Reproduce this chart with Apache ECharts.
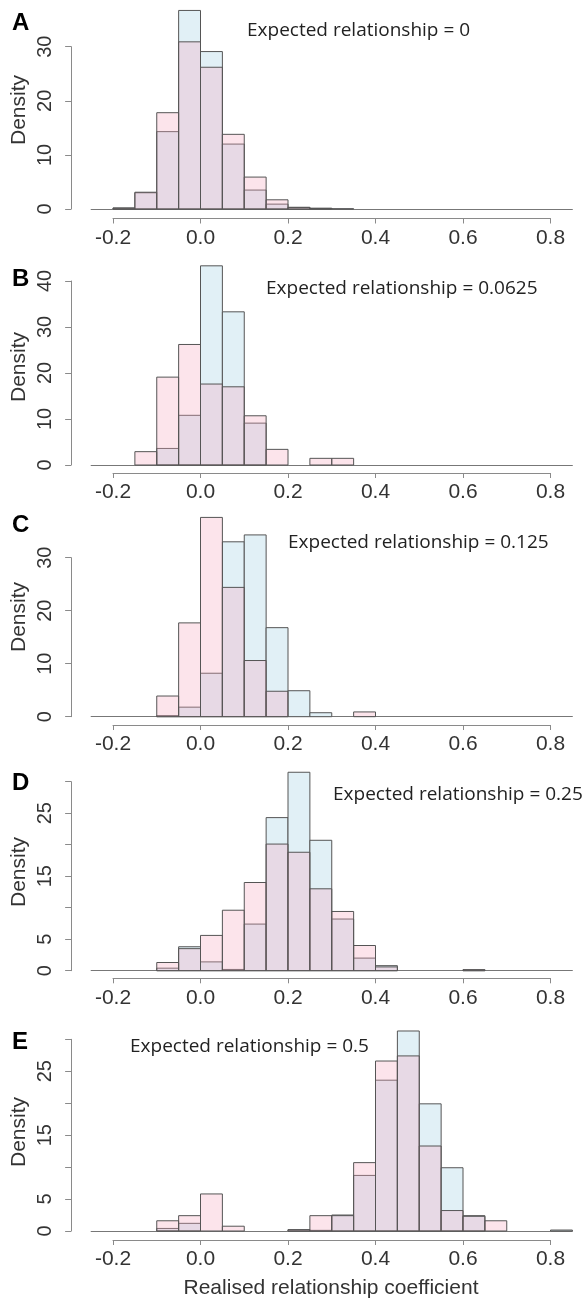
<!DOCTYPE html>
<html><head><meta charset="utf-8">
<script src="https://cdn.jsdelivr.net/npm/echarts@6/dist/echarts.min.js"></script>
<style>html,body{margin:0;padding:0;background:#fff}#c{width:585px;height:1302px}</style>
</head><body><div id="c"></div>
<script>
// ---- data ----
const binStarts = [-0.25,-0.2,-0.15,-0.1,-0.05,0,0.05,0.1,0.15,0.2,0.25,0.3,0.35,0.4,0.45,0.5,0.55,0.6,0.65,0.7,0.75,0.8];
const binWidth = 0.05;
const panelLetters = ['A','B','C','D','E'];
const expectedValues = ['0','0.0625','0.125','0.25','0.5'];
const xTickLabels = ['-0.2','0.0','0.2','0.4','0.6','0.8'];
const xTitle = 'Realised relationship coefficient';
const yTitle = 'Density';

const blueA = [0,0.2,3.0,14.3,36.7,29.1,12.0,3.5,0.9,0.3,0.15,0.05,0,0,0,0,0,0,0,0,0,0];
const pinkA = [0,0.15,3.1,17.8,30.9,26.2,13.8,5.9,1.7,0.3,0.1,0,0,0,0,0,0,0,0,0,0,0];
const blueB = [0,0,0,3.6,10.8,43.3,33.3,9.1,0,0,0,0,0,0,0,0,0,0,0,0,0,0];
const pinkB = [0,0,2.9,19.1,26.2,17.6,17.0,10.7,3.4,0,1.45,1.45,0,0,0,0,0,0,0,0,0,0];
const blueC = [0,0,0,0.2,1.8,8.2,33.0,34.3,16.8,4.9,0.75,0,0,0,0,0,0,0,0,0,0,0];
const pinkC = [0,0,0,3.9,17.7,37.6,24.4,10.6,4.8,0,0,0,0.9,0,0,0,0,0,0,0,0,0];
const blueD = [0,0,0,0.4,3.8,1.4,0.2,7.4,24.3,31.5,20.7,8.2,2.0,0.8,0,0,0,0.15,0,0,0,0];
const pinkD = [0,0,0,1.3,3.5,5.6,9.6,14.0,20.1,18.8,13.0,9.4,4.0,0.6,0,0,0,0.15,0,0,0,0];
const blueE = [0,0,0,0.4,1.2,0,0,0,0,0.2,0.1,2.5,8.7,23.6,31.3,19.9,9.9,2.4,0,0,0,0.15];
const pinkE = [0,0,0,1.6,2.4,5.8,0.75,0,0,0.2,2.4,2.4,10.7,26.6,27.4,13.3,3.2,2.3,1.6,0,0,0];

const yTicksA = [0,10,20,30];
const yTicksB = [0,10,20,30,40];
const yTicksC = [0,10,20,30];
const yTicksD = [0,5,10,15,20,25,30];
const yTicksE = [0,5,10,15,20,25,30];
const yLabelsA = [0,10,20,30];
const yLabelsB = [0,10,20,30,40];
const yLabelsC = [0,10,20,30];
const yLabelsD = [0,5,15,25];
const yLabelsE = [0,5,15,25];

// ---- layout ----
const panels = [
  {blue:blueA, pink:pinkA, ticks:yTicksA, labels:yLabelsA, top:46.7, h:162.3, xOff:9.5, ann:[247,31], letterY:23.5, densY:110},
  {blue:blueB, pink:pinkB, ticks:yTicksB, labels:yLabelsB, top:281, h:184, xOff:8, ann:[266,289], letterY:279.5, densY:367},
  {blue:blueC, pink:pinkC, ticks:yTicksC, labels:yLabelsC, top:557.7, h:159, xOff:8.3, ann:[288,543], letterY:525, densY:617},
  {blue:blueD, pink:pinkD, ticks:yTicksD, labels:yLabelsD, top:781.7, h:189, xOff:7.6, ann:[333,795], letterY:783, densY:872},
  {blue:blueE, pink:pinkE, ticks:yTicksE, labels:yLabelsE, top:1039.3, h:191.7, xOff:9, ann:[130,1047], letterY:1042, densY:1132}
];
const PX_PER_UNIT = 437.5;
const X0 = 200.5; // pixel of 0.0
const BLUE = 'rgb(225,240,246)';
const PINK = 'rgba(245,165,188,0.3)';
const EDGE = '#555';
const AX = '#8a8a8a';
const TXT = '#333';
const RFONT = 'Liberation Sans';

const grids = [], xAxes = [], yAxes = [], series = [], graphics = [];
panels.forEach((p, i) => {
  grids.push({left: X0 + (-0.25)*PX_PER_UNIT, width: 1.1*PX_PER_UNIT, top: p.top, height: p.h, outerBoundsMode:'none', containLabel:false});
  xAxes.push({gridIndex:i, type:'value', min:-0.25, max:0.85, axisLine:{show:true, onZero:true, lineStyle:{color:'#777'}},
    axisTick:{show:false}, axisLabel:{show:false}, splitLine:{show:false}});
  const yMax = p.ticks[p.ticks.length-1];
  const yInt = p.ticks[1]-p.ticks[0];
  const labs = p.labels;
  yAxes.push({gridIndex:i, type:'value', min:0, max:yMax, interval:yInt, offset:20,
    axisLine:{show:true, onZero:false, lineStyle:{color:AX}}, axisTick:{show:true, length:6, lineStyle:{color:AX}},
    axisLabel:{rotate:90, fontSize:20, fontFamily:RFONT, color:TXT, margin:16, showMinLabel:true, showMaxLabel:true,
      formatter: v => labs.indexOf(Math.round(v)) >= 0 ? String(Math.round(v)) : ''},
    splitLine:{show:false}});
  const mk = (vals, fill, name) => ({
    type:'custom', name, xAxisIndex:i, yAxisIndex:i, clip:false,
    data: binStarts.map((b, k) => [b, vals[k]]),
    encode:{x:0, y:1},
    renderItem: (params, api) => {
      const x0 = api.value(0), v = api.value(1);
      if (!v) return null;
      const a = api.coord([x0, 0]);
      const b = api.coord([x0 + binWidth, v]);
      return {type:'rect', shape:{x:a[0], y:b[1], width:b[0]-a[0], height:a[1]-b[1]},
        style:{fill, stroke:EDGE, lineWidth:1}};
    }
  });
  series.push(mk(p.blue, BLUE, 'blue'+i));
  series.push(mk(p.pink, PINK, 'pink'+i));

  graphics.push({type:'text', x:12, y:p.letterY, style:{text:panelLetters[i], fontSize:24, fontWeight:'bold', fontFamily:RFONT, fill:'#000', align:'left', verticalAlign:'middle'}});
  graphics.push({type:'text', x:19, y:p.densY, rotation:Math.PI/2, style:{text:yTitle, fontSize:21, fontFamily:RFONT, fill:TXT, align:'center', verticalAlign:'middle'}});
  graphics.push({type:'text', x:p.ann[0], y:p.ann[1], style:{text:'Expected relationship = ' + expectedValues[i], fontSize:19, fontFamily:'Open Sans', fill:'#222', align:'left', verticalAlign:'middle'}});
});
panels.forEach((p, i) => {
  const gi = grids.length;
  grids.push({left: X0 + (-0.2)*PX_PER_UNIT, width: 1.0*PX_PER_UNIT, top: p.top, height: p.h, outerBoundsMode:'none', containLabel:false});
  xAxes.push({gridIndex:gi, type:'value', min:-0.2, max:0.8, interval:0.2, position:'bottom', offset:p.xOff,
    axisLine:{show:true, onZero:false, lineStyle:{color:AX}}, axisTick:{show:true, length:5, lineStyle:{color:AX}},
    axisLabel:{fontSize:21, fontFamily:RFONT, color:TXT, margin:9, showMinLabel:true, showMaxLabel:true,
      formatter: v => xTickLabels[Math.round((v + 0.2)/0.2)]},
    splitLine:{show:false}});
  yAxes.push({gridIndex:gi, type:'value', min:0, max:1, show:false});
});
graphics.push({type:'text', x:331, y:1288, style:{text:xTitle, fontSize:21, fontFamily:RFONT, fill:TXT, align:'center', verticalAlign:'middle'}});

const chart = echarts.init(document.getElementById('c'), null, {renderer:'canvas'});
chart.setOption({
  animation:false,
  backgroundColor:'#fff',
  grid:grids, xAxis:xAxes, yAxis:yAxes, series, graphic:graphics
});
</script></body></html>
